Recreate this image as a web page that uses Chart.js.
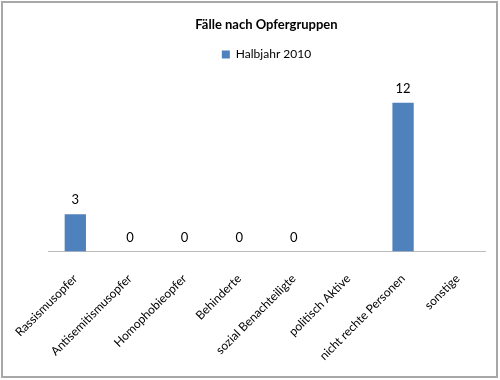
<!DOCTYPE html>
<html>
<head>
<meta charset="utf-8">
<script src="https://cdn.jsdelivr.net/npm/chart.js@4/dist/chart.umd.min.js"></script>
<style>
  html, body { margin: 0; padding: 0; background: #fff; }
  #wrap { position: absolute; left: 0; top: 0; width: 500px; height: 380px; }
  #frame { position: absolute; left: 1px; top: 1px; width: 497px; height: 377px; box-sizing: border-box; border: 2px solid #a8a8a8; pointer-events: none; }
  canvas { position: absolute; left: 0; top: 0; }
</style>
</head>
<body>
<div id="wrap">
  <canvas id="c" width="500" height="380"></canvas>
  <div id="frame"></div>
</div>
<script>
const categories = ["Rassismusopfer", "Antisemitismusopfer", "Homophobieopfer", "Behinderte", "sozial Benachteiligte", "politisch Aktive", "nicht rechte Personen", "sonstige"];
const seriesName = "Halbjahr 2010";
const values = [3, 0, 0, 0, 0, null, 12, null];
const titleText = "Fälle nach Opfergruppen";

const FONT = "Lato, 'Open Sans', sans-serif";

const valueLabels = {
  id: 'valueLabels',
  afterDatasetsDraw(chart) {
    const ctx = chart.ctx;
    const meta = chart.getDatasetMeta(0);
    const data = chart.data.datasets[0].data;
    ctx.save();
    ctx.font = "13px " + FONT;
    ctx.fillStyle = "#000";
    ctx.textAlign = "center";
    ctx.textBaseline = "middle";
    meta.data.forEach((bar, i) => {
      const v = data[i];
      if (v === null || v === undefined) return;
      ctx.fillText(String(v), bar.x, bar.y - 14);
    });
    ctx.restore();
  }
};

new Chart(document.getElementById('c'), {
  type: 'bar',
  data: {
    labels: categories,
    datasets: [{
      label: seriesName,
      data: values,
      backgroundColor: '#4f81bd',
      borderWidth: 0,
      categoryPercentage: 1.0,
      barPercentage: 0.39
    }]
  },
  options: {
    responsive: false,
    animation: false,
    layout: { padding: { left: 48, right: 15, top: 6, bottom: -3 } },
    plugins: {
      title: {
        display: true,
        text: titleText,
        color: '#000',
        font: { family: FONT, size: 13, weight: 'bold' },
        padding: { top: 11, bottom: 6 }
      },
      legend: {
        display: true,
        position: 'top',
        labels: {
          color: '#000',
          font: { family: FONT, size: 12 },
          boxWidth: 8,
          boxHeight: 8,
          padding: 10
        }
      },
      tooltip: { enabled: false }
    },
    scales: {
      x: {
        afterFit(scale) { scale.paddingLeft = 0; scale.paddingRight = 0; },
        grid: { display: false, drawTicks: false },
        border: { display: true, color: '#bcbcbc', width: 1 },
        ticks: {
          color: '#000',
          font: { family: FONT, size: 12 },
          minRotation: 45,
          maxRotation: 45,
          autoSkip: false,
          padding: 20
        }
      },
      y: {
        display: false,
        min: 0,
        max: 14.6
      }
    }
  },
  plugins: [valueLabels]
});
</script>
</body>
</html>
